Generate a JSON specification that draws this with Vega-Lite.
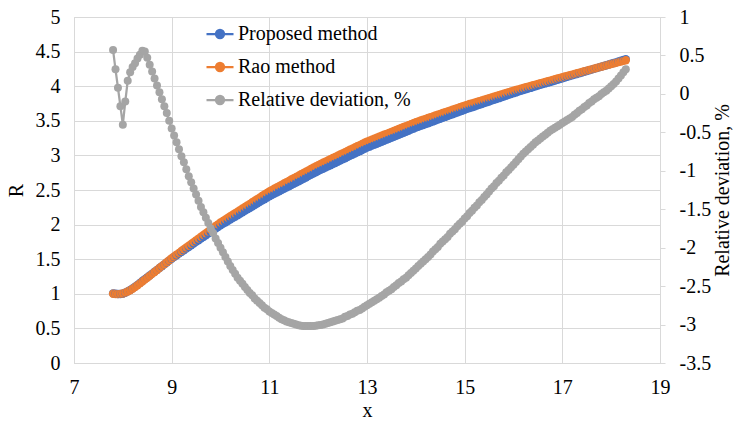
{
"$schema": "https://vega.github.io/schema/vega-lite/v6.json",
"width": 586, "height": 346,
"autosize": {"type": "none"},
"padding": {"left": 74, "top": 17, "right": 76, "bottom": 61},
"data": {"values": [
{"x":7.80,"r":1.000,"d":0.57,"p":1.006},
{"x":7.85,"r":0.997,"d":0.32,"p":1.000},
{"x":7.90,"r":0.996,"d":0.08,"p":0.997},
{"x":7.95,"r":0.999,"d":-0.16,"p":0.997},
{"x":8.00,"r":1.005,"d":-0.40,"p":1.001},
{"x":8.05,"r":1.017,"d":-0.10,"p":1.016},
{"x":8.10,"r":1.033,"d":0.17,"p":1.035},
{"x":8.15,"r":1.052,"d":0.28,"p":1.055},
{"x":8.20,"r":1.074,"d":0.35,"p":1.078},
{"x":8.25,"r":1.098,"d":0.40,"p":1.102},
{"x":8.30,"r":1.124,"d":0.46,"p":1.129},
{"x":8.35,"r":1.151,"d":0.51,"p":1.157},
{"x":8.40,"r":1.178,"d":0.56,"p":1.185},
{"x":8.45,"r":1.205,"d":0.55,"p":1.212},
{"x":8.50,"r":1.232,"d":0.47,"p":1.238},
{"x":8.55,"r":1.260,"d":0.38,"p":1.265},
{"x":8.60,"r":1.288,"d":0.29,"p":1.292},
{"x":8.65,"r":1.316,"d":0.20,"p":1.319},
{"x":8.70,"r":1.344,"d":0.11,"p":1.345},
{"x":8.75,"r":1.372,"d":0.02,"p":1.372},
{"x":8.80,"r":1.400,"d":-0.07,"p":1.399},
{"x":8.85,"r":1.428,"d":-0.16,"p":1.426},
{"x":8.90,"r":1.456,"d":-0.25,"p":1.452},
{"x":8.95,"r":1.484,"d":-0.35,"p":1.479},
{"x":9.00,"r":1.513,"d":-0.45,"p":1.506},
{"x":9.05,"r":1.539,"d":-0.54,"p":1.531},
{"x":9.10,"r":1.567,"d":-0.63,"p":1.557},
{"x":9.15,"r":1.592,"d":-0.72,"p":1.581},
{"x":9.20,"r":1.618,"d":-0.81,"p":1.605},
{"x":9.25,"r":1.644,"d":-0.89,"p":1.629},
{"x":9.30,"r":1.670,"d":-0.98,"p":1.654},
{"x":9.35,"r":1.695,"d":-1.07,"p":1.677},
{"x":9.40,"r":1.721,"d":-1.15,"p":1.701},
{"x":9.45,"r":1.747,"d":-1.23,"p":1.726},
{"x":9.50,"r":1.773,"d":-1.31,"p":1.750},
{"x":9.55,"r":1.798,"d":-1.39,"p":1.773},
{"x":9.60,"r":1.824,"d":-1.47,"p":1.797},
{"x":9.65,"r":1.850,"d":-1.54,"p":1.822},
{"x":9.70,"r":1.876,"d":-1.61,"p":1.846},
{"x":9.75,"r":1.901,"d":-1.68,"p":1.869},
{"x":9.80,"r":1.927,"d":-1.75,"p":1.893},
{"x":9.85,"r":1.953,"d":-1.81,"p":1.918},
{"x":9.90,"r":1.979,"d":-1.88,"p":1.942},
{"x":9.95,"r":2.004,"d":-1.94,"p":1.965},
{"x":10.00,"r":2.030,"d":-2.00,"p":1.989},
{"x":10.05,"r":2.053,"d":-2.06,"p":2.011},
{"x":10.10,"r":2.075,"d":-2.12,"p":2.031},
{"x":10.15,"r":2.098,"d":-2.18,"p":2.052},
{"x":10.20,"r":2.120,"d":-2.24,"p":2.073},
{"x":10.25,"r":2.143,"d":-2.29,"p":2.094},
{"x":10.30,"r":2.165,"d":-2.34,"p":2.114},
{"x":10.35,"r":2.188,"d":-2.39,"p":2.136},
{"x":10.40,"r":2.210,"d":-2.43,"p":2.156},
{"x":10.45,"r":2.233,"d":-2.47,"p":2.178},
{"x":10.50,"r":2.255,"d":-2.51,"p":2.198},
{"x":10.55,"r":2.278,"d":-2.55,"p":2.220},
{"x":10.60,"r":2.300,"d":-2.59,"p":2.240},
{"x":10.65,"r":2.323,"d":-2.62,"p":2.262},
{"x":10.70,"r":2.345,"d":-2.66,"p":2.283},
{"x":10.75,"r":2.368,"d":-2.69,"p":2.304},
{"x":10.80,"r":2.390,"d":-2.72,"p":2.325},
{"x":10.85,"r":2.413,"d":-2.75,"p":2.347},
{"x":10.90,"r":2.435,"d":-2.78,"p":2.367},
{"x":10.95,"r":2.458,"d":-2.80,"p":2.389},
{"x":11.00,"r":2.480,"d":-2.83,"p":2.410},
{"x":11.05,"r":2.499,"d":-2.85,"p":2.428},
{"x":11.10,"r":2.518,"d":-2.87,"p":2.446},
{"x":11.15,"r":2.537,"d":-2.89,"p":2.464},
{"x":11.20,"r":2.556,"d":-2.91,"p":2.482},
{"x":11.25,"r":2.575,"d":-2.93,"p":2.500},
{"x":11.30,"r":2.594,"d":-2.945,"p":2.518},
{"x":11.35,"r":2.613,"d":-2.96,"p":2.536},
{"x":11.40,"r":2.632,"d":-2.97,"p":2.554},
{"x":11.45,"r":2.651,"d":-2.98,"p":2.572},
{"x":11.50,"r":2.670,"d":-2.99,"p":2.590},
{"x":11.55,"r":2.689,"d":-3.00,"p":2.608},
{"x":11.60,"r":2.708,"d":-3.01,"p":2.626},
{"x":11.65,"r":2.727,"d":-3.015,"p":2.645},
{"x":11.70,"r":2.746,"d":-3.02,"p":2.663},
{"x":11.75,"r":2.765,"d":-3.02,"p":2.681},
{"x":11.80,"r":2.784,"d":-3.02,"p":2.700},
{"x":11.85,"r":2.803,"d":-3.02,"p":2.718},
{"x":11.90,"r":2.822,"d":-3.02,"p":2.737},
{"x":11.95,"r":2.841,"d":-3.015,"p":2.755},
{"x":12.00,"r":2.860,"d":-3.01,"p":2.774},
{"x":12.05,"r":2.877,"d":-3.005,"p":2.791},
{"x":12.10,"r":2.894,"d":-3.00,"p":2.807},
{"x":12.15,"r":2.911,"d":-2.99,"p":2.824},
{"x":12.20,"r":2.928,"d":-2.98,"p":2.841},
{"x":12.25,"r":2.945,"d":-2.97,"p":2.858},
{"x":12.30,"r":2.962,"d":-2.96,"p":2.874},
{"x":12.35,"r":2.979,"d":-2.95,"p":2.891},
{"x":12.40,"r":2.996,"d":-2.94,"p":2.908},
{"x":12.45,"r":3.013,"d":-2.93,"p":2.925},
{"x":12.50,"r":3.030,"d":-2.92,"p":2.942},
{"x":12.55,"r":3.047,"d":-2.90,"p":2.959},
{"x":12.60,"r":3.064,"d":-2.89,"p":2.975},
{"x":12.65,"r":3.081,"d":-2.87,"p":2.993},
{"x":12.70,"r":3.098,"d":-2.86,"p":3.009},
{"x":12.75,"r":3.115,"d":-2.84,"p":3.027},
{"x":12.80,"r":3.132,"d":-2.82,"p":3.044},
{"x":12.85,"r":3.149,"d":-2.81,"p":3.061},
{"x":12.90,"r":3.166,"d":-2.79,"p":3.078},
{"x":12.95,"r":3.183,"d":-2.77,"p":3.095},
{"x":13.00,"r":3.200,"d":-2.75,"p":3.112},
{"x":13.05,"r":3.214,"d":-2.73,"p":3.126},
{"x":13.10,"r":3.228,"d":-2.71,"p":3.141},
{"x":13.15,"r":3.242,"d":-2.69,"p":3.155},
{"x":13.20,"r":3.256,"d":-2.67,"p":3.169},
{"x":13.25,"r":3.270,"d":-2.65,"p":3.183},
{"x":13.30,"r":3.284,"d":-2.63,"p":3.198},
{"x":13.35,"r":3.298,"d":-2.61,"p":3.212},
{"x":13.40,"r":3.312,"d":-2.58,"p":3.227},
{"x":13.45,"r":3.326,"d":-2.56,"p":3.241},
{"x":13.50,"r":3.340,"d":-2.54,"p":3.255},
{"x":13.55,"r":3.354,"d":-2.51,"p":3.270},
{"x":13.60,"r":3.368,"d":-2.49,"p":3.284},
{"x":13.65,"r":3.382,"d":-2.46,"p":3.299},
{"x":13.70,"r":3.396,"d":-2.44,"p":3.313},
{"x":13.75,"r":3.410,"d":-2.41,"p":3.328},
{"x":13.80,"r":3.424,"d":-2.39,"p":3.342},
{"x":13.85,"r":3.438,"d":-2.36,"p":3.357},
{"x":13.90,"r":3.452,"d":-2.33,"p":3.372},
{"x":13.95,"r":3.466,"d":-2.30,"p":3.386},
{"x":14.00,"r":3.480,"d":-2.27,"p":3.401},
{"x":14.05,"r":3.492,"d":-2.24,"p":3.414},
{"x":14.10,"r":3.504,"d":-2.21,"p":3.427},
{"x":14.15,"r":3.516,"d":-2.18,"p":3.439},
{"x":14.20,"r":3.528,"d":-2.15,"p":3.452},
{"x":14.25,"r":3.540,"d":-2.12,"p":3.465},
{"x":14.30,"r":3.552,"d":-2.09,"p":3.478},
{"x":14.35,"r":3.564,"d":-2.05,"p":3.491},
{"x":14.40,"r":3.576,"d":-2.02,"p":3.504},
{"x":14.45,"r":3.588,"d":-1.99,"p":3.517},
{"x":14.50,"r":3.600,"d":-1.95,"p":3.530},
{"x":14.55,"r":3.612,"d":-1.92,"p":3.543},
{"x":14.60,"r":3.624,"d":-1.89,"p":3.556},
{"x":14.65,"r":3.636,"d":-1.86,"p":3.568},
{"x":14.70,"r":3.648,"d":-1.82,"p":3.582},
{"x":14.75,"r":3.660,"d":-1.79,"p":3.594},
{"x":14.80,"r":3.672,"d":-1.76,"p":3.607},
{"x":14.85,"r":3.684,"d":-1.72,"p":3.621},
{"x":14.90,"r":3.696,"d":-1.69,"p":3.634},
{"x":14.95,"r":3.708,"d":-1.66,"p":3.646},
{"x":15.00,"r":3.720,"d":-1.62,"p":3.660},
{"x":15.05,"r":3.731,"d":-1.59,"p":3.672},
{"x":15.10,"r":3.742,"d":-1.55,"p":3.684},
{"x":15.15,"r":3.752,"d":-1.52,"p":3.695},
{"x":15.20,"r":3.763,"d":-1.48,"p":3.707},
{"x":15.25,"r":3.774,"d":-1.45,"p":3.719},
{"x":15.30,"r":3.785,"d":-1.41,"p":3.732},
{"x":15.35,"r":3.795,"d":-1.38,"p":3.743},
{"x":15.40,"r":3.806,"d":-1.34,"p":3.755},
{"x":15.45,"r":3.817,"d":-1.31,"p":3.767},
{"x":15.50,"r":3.828,"d":-1.27,"p":3.779},
{"x":15.55,"r":3.838,"d":-1.23,"p":3.791},
{"x":15.60,"r":3.849,"d":-1.20,"p":3.803},
{"x":15.65,"r":3.860,"d":-1.16,"p":3.815},
{"x":15.70,"r":3.871,"d":-1.13,"p":3.827},
{"x":15.75,"r":3.881,"d":-1.09,"p":3.839},
{"x":15.80,"r":3.892,"d":-1.06,"p":3.851},
{"x":15.85,"r":3.903,"d":-1.02,"p":3.863},
{"x":15.90,"r":3.914,"d":-0.99,"p":3.875},
{"x":15.95,"r":3.924,"d":-0.955,"p":3.887},
{"x":16.00,"r":3.935,"d":-0.92,"p":3.899},
{"x":16.05,"r":3.945,"d":-0.885,"p":3.910},
{"x":16.10,"r":3.955,"d":-0.85,"p":3.921},
{"x":16.15,"r":3.964,"d":-0.815,"p":3.932},
{"x":16.20,"r":3.974,"d":-0.78,"p":3.943},
{"x":16.25,"r":3.984,"d":-0.75,"p":3.954},
{"x":16.30,"r":3.994,"d":-0.72,"p":3.965},
{"x":16.35,"r":4.003,"d":-0.69,"p":3.975},
{"x":16.40,"r":4.013,"d":-0.66,"p":3.987},
{"x":16.45,"r":4.023,"d":-0.63,"p":3.998},
{"x":16.50,"r":4.033,"d":-0.605,"p":4.009},
{"x":16.55,"r":4.042,"d":-0.58,"p":4.019},
{"x":16.60,"r":4.052,"d":-0.555,"p":4.030},
{"x":16.65,"r":4.062,"d":-0.53,"p":4.040},
{"x":16.70,"r":4.072,"d":-0.505,"p":4.051},
{"x":16.75,"r":4.081,"d":-0.48,"p":4.061},
{"x":16.80,"r":4.091,"d":-0.46,"p":4.072},
{"x":16.85,"r":4.101,"d":-0.44,"p":4.083},
{"x":16.90,"r":4.111,"d":-0.42,"p":4.094},
{"x":16.95,"r":4.120,"d":-0.40,"p":4.104},
{"x":17.00,"r":4.130,"d":-0.38,"p":4.114},
{"x":17.05,"r":4.140,"d":-0.36,"p":4.125},
{"x":17.10,"r":4.149,"d":-0.34,"p":4.135},
{"x":17.15,"r":4.159,"d":-0.32,"p":4.146},
{"x":17.20,"r":4.168,"d":-0.30,"p":4.156},
{"x":17.25,"r":4.178,"d":-0.27,"p":4.167},
{"x":17.30,"r":4.187,"d":-0.25,"p":4.177},
{"x":17.35,"r":4.197,"d":-0.22,"p":4.188},
{"x":17.40,"r":4.206,"d":-0.20,"p":4.198},
{"x":17.45,"r":4.216,"d":-0.17,"p":4.209},
{"x":17.50,"r":4.225,"d":-0.15,"p":4.219},
{"x":17.55,"r":4.235,"d":-0.12,"p":4.230},
{"x":17.60,"r":4.244,"d":-0.10,"p":4.240},
{"x":17.65,"r":4.254,"d":-0.07,"p":4.251},
{"x":17.70,"r":4.263,"d":-0.05,"p":4.261},
{"x":17.75,"r":4.273,"d":-0.03,"p":4.272},
{"x":17.80,"r":4.282,"d":0.00,"p":4.282},
{"x":17.85,"r":4.292,"d":0.02,"p":4.293},
{"x":17.90,"r":4.301,"d":0.04,"p":4.303},
{"x":17.95,"r":4.311,"d":0.07,"p":4.314},
{"x":18.00,"r":4.320,"d":0.10,"p":4.324},
{"x":18.05,"r":4.329,"d":0.13,"p":4.335},
{"x":18.10,"r":4.338,"d":0.16,"p":4.345},
{"x":18.15,"r":4.348,"d":0.20,"p":4.357},
{"x":18.20,"r":4.357,"d":0.24,"p":4.367},
{"x":18.25,"r":4.366,"d":0.28,"p":4.378},
{"x":18.30,"r":4.375,"d":0.32,"p":4.389}
]},
"encoding": {
  "x": {"field": "x", "type": "quantitative",
    "scale": {"domain": [7, 19], "nice": false},
    "axis": {"values": [7, 9, 11, 13, 15, 17, 19], "labelFont": "Times New Roman", "labelFontSize": 20,
      "title": "x", "titleFont": "Liberation Serif", "titleFontSize": 20, "titleFontWeight": "normal",
      "labelPadding": 14, "labelFlush": false, "ticks": false, "gridColor": "#D9D9D9", "domainColor": "#D9D9D9", "titleY": 47, "titleBaseline": "middle"}}
},
"layer": [
  {"transform": [{"fold": ["p", "r"], "as": ["s", "v"]}],
   "mark": {"type": "line", "strokeWidth": 2.25, "point": {"filled": true, "size": 70, "opacity": 1}},
   "encoding": {
     "y": {"field": "v", "type": "quantitative", "scale": {"domain": [0, 5], "nice": false},
       "axis": {"values": [0,0.5,1,1.5,2,2.5,3,3.5,4,4.5,5], "labelFontSize": 20, "labelFont": "Times New Roman", "labelExpr": "'' + datum.value",
         "title": "R", "titleFont": "Liberation Serif", "titleFontSize": 20, "titleFontWeight": "normal",
         "labelPadding": 14, "ticks": false, "gridColor": "#D9D9D9", "domainColor": "#D9D9D9", "titleX": -58, "titleY": 173, "titleBaseline": "middle"}},
     "color": {"field": "s", "type": "nominal",
       "scale": {"domain": ["p", "r", "d"], "range": ["#4472C4", "#ED7D31", "#A5A5A5"]},
       "legend": {"orient": "none", "legendX": 131, "legendY": 2, "title": null,
         "labelExpr": "datum.label == 'p' ? 'Proposed method' : datum.label == 'r' ? 'Rao method' : 'Relative deviation, %'",
         "symbolType": "M-1,0L1,0M-0.3,0A0.3,0.3,0,1,1,0.3,0A0.3,0.3,0,1,1,-0.3,0Z",
         "symbolSize": 729, "symbolStrokeWidth": 2.25, "symbolOpacity": 1,
         "labelFontSize": 20, "labelFont": "Liberation Serif", "labelOffset": 3, "rowPadding": 8, "labelLimit": 400}}}},
  {"mark": {"type": "line", "strokeWidth": 2.25, "point": {"filled": true, "size": 64, "opacity": 1}},
   "encoding": {
     "y": {"field": "d", "type": "quantitative", "scale": {"domain": [-3.5, 1], "nice": false},
       "axis": {"orient": "right", "values": [-3.5,-3,-2.5,-2,-1.5,-1,-0.5,0,0.5,1], "labelFontSize": 20, "labelFont": "Times New Roman", "labelExpr": "'' + datum.value",
         "title": "Relative deviation, %", "titleFont": "Liberation Serif", "titleFontSize": 20, "titleFontWeight": "normal",
         "labelPadding": 14, "grid": false, "tickSize": 5, "tickColor": "#D9D9D9", "domainColor": "#D9D9D9", "titleAngle": 270, "titleX": 62, "titleY": 173, "titleBaseline": "middle"}},
     "color": {"datum": "d"}}}
],
"resolve": {"scale": {"y": "independent"}}
}
